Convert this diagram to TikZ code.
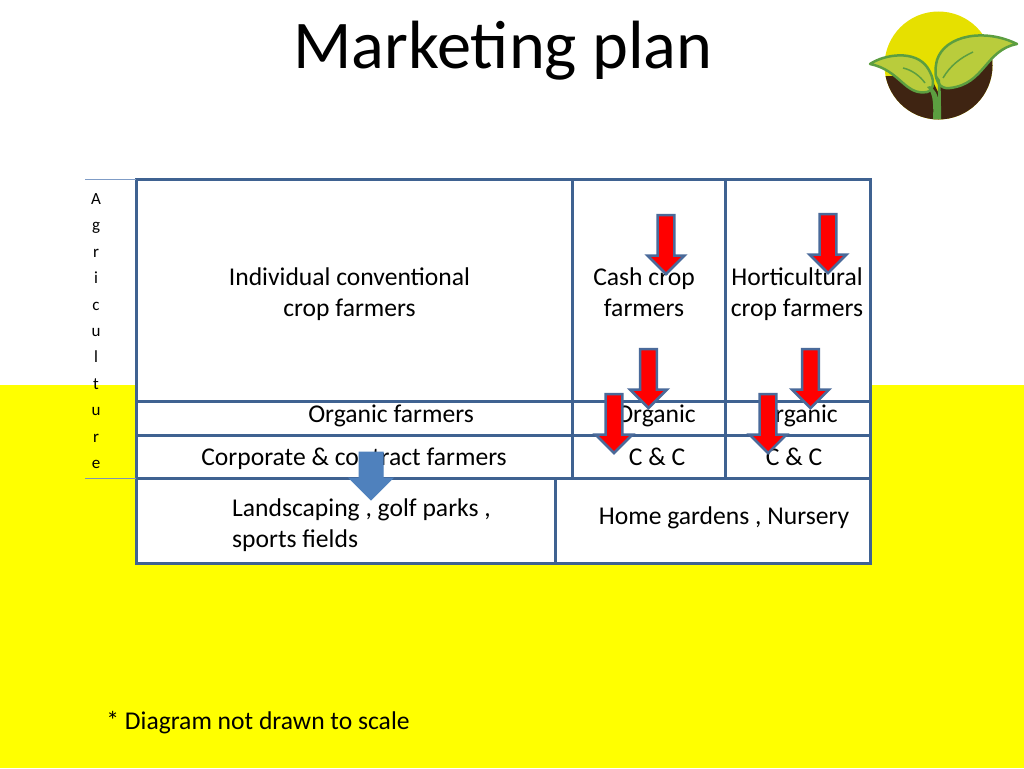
\documentclass[tikz,border=0pt]{standalone}
\usepackage{fontspec}
\setmainfont{Carlito}
\usetikzlibrary{shapes.arrows}
\definecolor{gridblue}{HTML}{3F6291}
\definecolor{arrowedge}{HTML}{4A6A9A}
\definecolor{arrowblue}{HTML}{4F81BD}
\definecolor{thinblue}{HTML}{7F9CC6}
\definecolor{soil}{HTML}{3F2412}
\definecolor{sun}{HTML}{E6E000}
\definecolor{leaf}{HTML}{B9CC3C}
\definecolor{stem}{HTML}{5C9E40}
\definecolor{field}{HTML}{FFFF00}
\definecolor{alarm}{HTML}{FF0000}

\begin{document}
\begin{tikzpicture}[x=1pt,y=-1pt]

\tikzset{cell/.style = {shape=rectangle,draw=gridblue,fill=white,line width=3pt,anchor=north west,inner sep=0pt,outer sep=0pt}}
\tikzset{txt/.style = {align=center,font=\fontsize{25.6}{31}\selectfont,inner sep=0pt}}
\tikzset{redarrow/.style = {shape=single arrow,shape border rotate=270,anchor=tip,draw=arrowedge,fill=alarm,line width=2.5pt,inner sep=7pt,outer sep=0pt,minimum width=37pt,minimum height=59pt,single arrow head extend=10pt,single arrow head indent=0pt}}
\tikzset{bluearrow/.style = {redarrow,draw=arrowblue,fill=arrowblue,line width=1pt,inner sep=11.5pt,minimum width=43pt,minimum height=48pt,single arrow head extend=10pt}}
\useasboundingbox (0,0) rectangle (1024,768);
%background
\fill[field] (0,385) rectangle (1024,768);
%logo
\begin{scope}
\clip (938.5,65.5) circle (54);
\fill[sun] (880,0) rectangle (1000,120);
\fill[soil] (880,76) -- (930,76) -- (938,92) -- (950,60) -- (1000,56) -- (1000,125) -- (880,125) -- cycle;
\end{scope}
\draw[stem,fill=leaf,line width=2.5pt,line join=round] (870,64) .. controls (885,54) and (915,50) .. (927,67) .. controls (936,80) and (934,90) .. (927,92) .. controls (905,96) and (900,70) .. (870,64) -- cycle;
\draw[stem,fill=leaf,line width=2.5pt,line join=round] (1017,44) .. controls (985,28) and (945,35) .. (937,60) .. controls (932,80) and (940,90) .. (950,88) .. controls (985,84) and (985,50) .. (1017,44) -- cycle;
\draw[stem,line width=1.5pt] (903,68) .. controls (912,70) and (920,76) .. (925,83);
\draw[stem,line width=1.5pt] (973,52) .. controls (960,58) and (950,66) .. (943,78);
\fill[stem] (933,119) .. controls (934,100) and (932,92) .. (927,87) -- (930,86) .. controls (935,90) and (937,94) .. (938,98) .. controls (938,92) and (938,86) .. (937,76) -- (940,80) .. controls (941,90) and (941,100) .. (941,119) -- cycle;
%title
\node[align=center,font=\fontsize{68.3}{72}\selectfont,inner sep=0pt] (title) at (503,51) {Marketing plan};
%cells
\node[cell,minimum width=436pt,minimum height=222pt] (indiv) at (136,179) {};
\node[cell,minimum width=153pt,minimum height=222pt] (cash) at (572,179) {};
\node[cell,minimum width=145pt,minimum height=222pt] (horti) at (725,179) {};
\node[cell,minimum width=436pt,minimum height=34pt] (organic) at (136,401) {};
\node[cell,minimum width=153pt,minimum height=34pt] (organicA) at (572,401) {};
\node[cell,minimum width=145pt,minimum height=34pt] (organicB) at (725,401) {};
\node[cell,minimum width=436pt,minimum height=43pt] (corp) at (136,435) {};
\node[cell,minimum width=153pt,minimum height=43pt] (ccA) at (572,435) {};
\node[cell,minimum width=145pt,minimum height=43pt] (ccB) at (725,435) {};
\node[cell,minimum width=419pt,minimum height=85pt] (land) at (136,478) {};
\node[cell,minimum width=315pt,minimum height=85pt] (home) at (555,478) {};
%side label
\coordinate (agtop) at (85,179);
\coordinate (agbot) at (85,478);
\draw[thinblue,line width=1pt] (agtop) -- (indiv.north west);
\draw[thinblue!70!gray,line width=1pt] (agbot) -- (corp.south west);
\node[align=center,font=\fontsize{17}{26.4}\selectfont,inner sep=0pt] (agri) at (96,331) {A\\g\\r\\i\\c\\u\\l\\t\\u\\r\\e};
%labels
\node[txt] (indivtxt) at (349.5,294) {Individual conventional\\crop farmers};
\node[txt] (cashtxt) at (644,292) {Cash crop\\farmers};
\node[txt] (hortitxt) at (797,294) {Horticultural\\crop farmers};
\node[txt] (organictxt) at (391,416) {Organic farmers};
\node[txt] (organicAtxt) at (656,416) {Organic};
\node[txt] (organicBtxt) at (798,416) {Organic};
\node[txt] (corptxt) at (354,459) {Corporate \& contract farmers};
\node[txt] (ccAtxt) at (657,457) {C \& C};
\node[txt] (ccBtxt) at (794,457) {C \& C};
\node[txt,align=left] (landtxt) at (361.5,525) {Landscaping , golf parks ,\\sports fields};
\node[txt] (hometxt) at (724,518) {Home gardens , Nursery};
\node[txt] (note) at (258,723) {* Diagram not drawn to scale};
%arrows
\node[redarrow] (cashdown) at (666,274) {};
\node[redarrow] (hortidown) at (828,273) {};
\node[redarrow] (cashout) at (648.5,408) {};
\node[redarrow] (hortiout) at (810.5,408) {};
\node[redarrow] (organicAdown) at (614,453) {};
\node[redarrow] (organicBdown) at (768,453) {};
\node[bluearrow] (corpdown) at (371,500) {};

\end{tikzpicture}
\end{document}
